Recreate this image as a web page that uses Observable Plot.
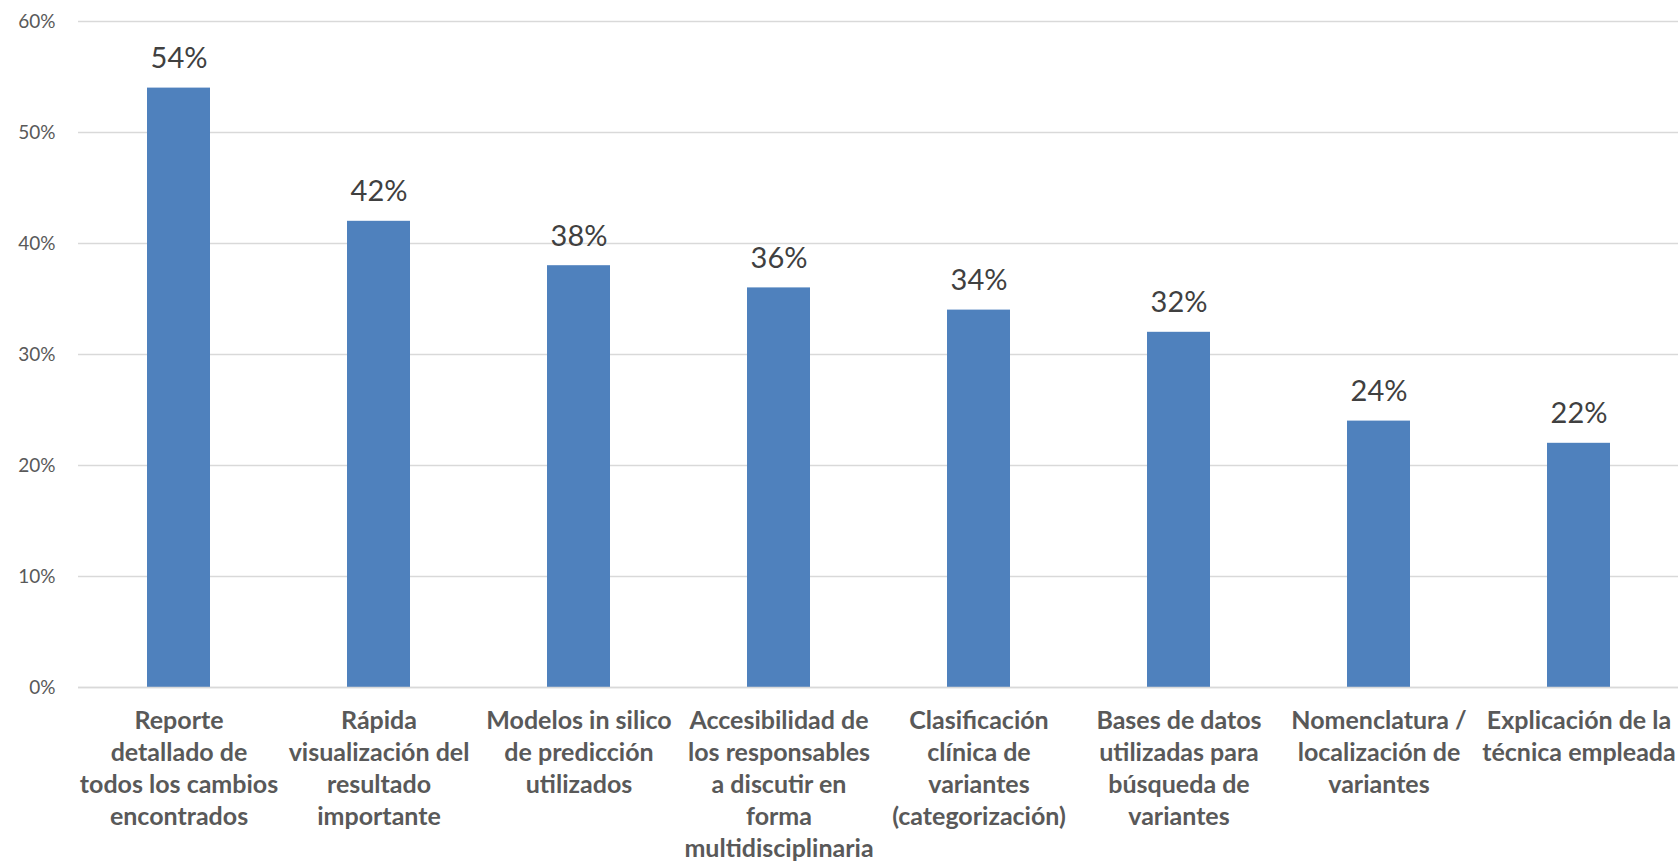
<!DOCTYPE html>
<html>
<head>
<meta charset="utf-8">
<script src="https://cdn.jsdelivr.net/npm/d3@7"></script>
<script src="https://cdn.jsdelivr.net/npm/@observablehq/plot@0.6"></script>
<style>
  html, body { margin: 0; padding: 0; background: #fff; }
  #chart svg { display: block; }
</style>
</head>
<body>
<div id="chart"></div>
<script>
const categories = [
  "Reporte\ndetallado de\ntodos los cambios\nencontrados",
  "Rápida\nvisualización del\nresultado\nimportante",
  "Modelos in silico\nde predicción\nutilizados",
  "Accesibilidad de\nlos responsables\na discutir en\nforma\nmultidisciplinaria",
  "Clasificación\nclínica de\nvariantes\n(categorización)",
  "Bases de datos\nutilizadas para\nbúsqueda de\nvariantes",
  "Nomenclatura /\nlocalización de\nvariantes",
  "Explicación de la\ntécnica empleada"
];
const values = [54, 42, 38, 36, 34, 32, 24, 22];
const yTicks = [0, 10, 20, 30, 40, 50, 60];

const data = categories.map((c, i) => ({category: c, value: values[i]}));

const chart = Plot.plot({
  width: 1679,
  height: 864,
  marginLeft: 78,
  marginRight: 1,
  marginTop: 21,
  marginBottom: 177,
  style: {fontFamily: "Lato, 'Open Sans', sans-serif", background: "#fff"},
  x: {domain: categories, paddingInner: 0.6875, paddingOuter: 0.34375, label: null},
  y: {domain: [0, 60], label: null},
  marks: [
    Plot.gridY(yTicks, {stroke: "#d9d9d9", strokeOpacity: 1, strokeWidth: 1.3}),
    Plot.barY(data, {x: "category", y: "value", fill: "#4f81bd"}),
    Plot.ruleY([0], {stroke: "#d9d9d9", strokeWidth: 1.5}),
    Plot.text(data, {x: "category", y: "value", text: d => d.value + "%", dy: -20, lineAnchor: "bottom", fontSize: 29, fill: "#404040"}),
    Plot.axisY(yTicks, {tickSize: 0, tickPadding: 23, tickFormat: d => d + "%", fontSize: 19, fill: "#595959", label: null}),
    Plot.axisX({tickSize: 0, tickPadding: 19, fontSize: 25, fontWeight: "bold", fill: "#595959", lineHeight: 1.28, label: null})
  ]
});
document.getElementById("chart").appendChild(chart);
</script>
</body>
</html>
